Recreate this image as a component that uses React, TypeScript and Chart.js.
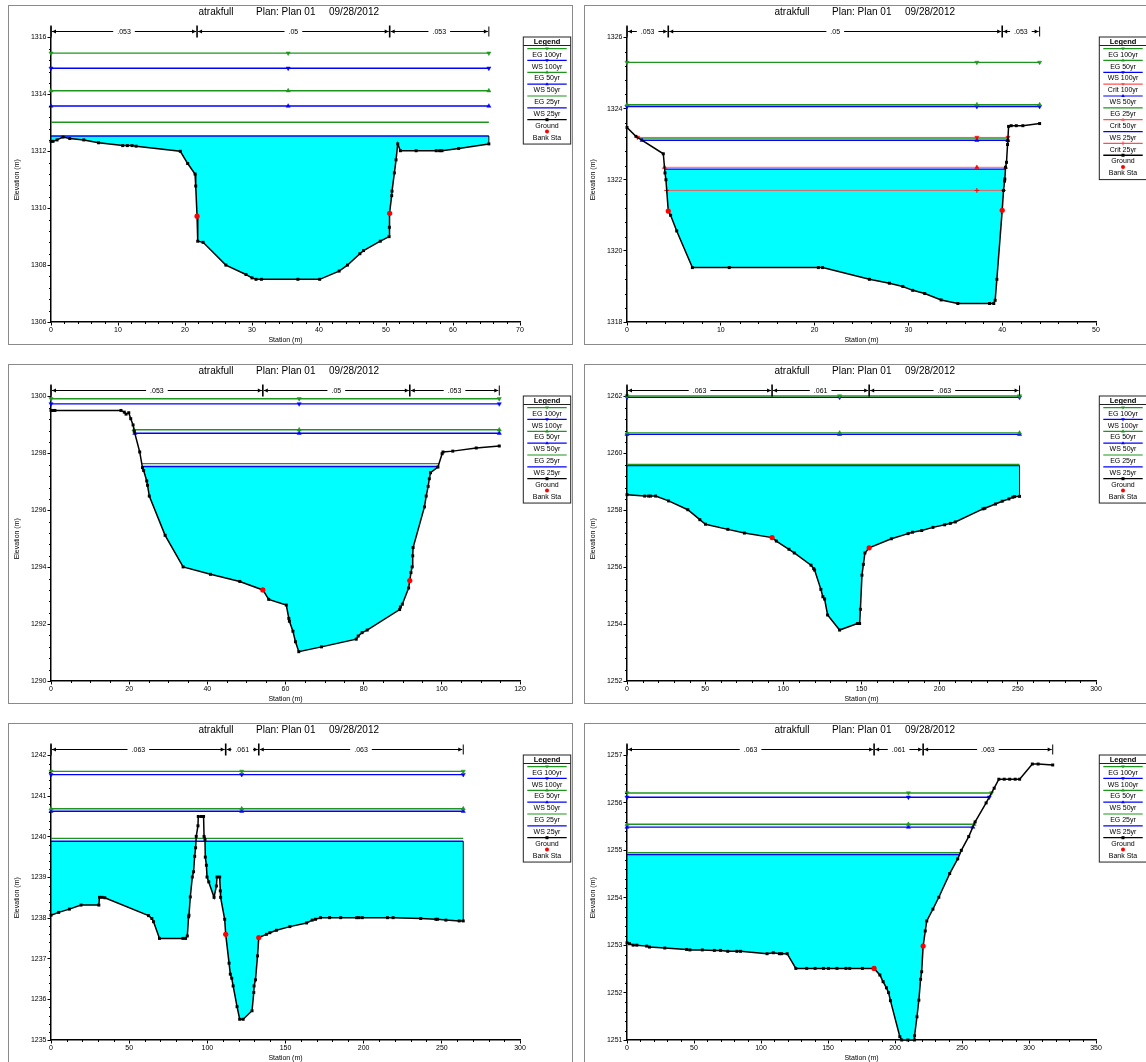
import React, { useEffect, useRef } from 'react';
import { Chart, registerables } from 'chart.js';

Chart.register(...registerables);

const FONT = "'Liberation Sans', Arial, Helvetica, sans-serif";
const TITLE_PARTS = ['atrakfull', 'Plan: Plan 01', '09/28/2012'];
const Y_TITLE = 'Elevation (m)';
const X_TITLE = 'Station (m)';

// ---------------- Panel 1 ----------------
const p1Station = [0, 0.3, 0.9, 1.8, 2.8, 4.9, 7.1, 10.7, 11.4, 12.1, 12.7, 19.3, 20.4, 21.5, 21.6, 21.8, 21.9, 22.7, 26.1, 29.1, 30.0, 30.6, 31.4, 36.85, 40.1, 43.0, 44.25, 46.1, 46.65, 49.15, 50.45, 50.5, 50.55, 50.85, 50.9, 51.25, 51.5, 51.75, 52.15, 54.5, 57.5, 58.0, 58.35, 60.85, 65.35];
const p1Elevation = [1312.35, 1312.35, 1312.4, 1312.5, 1312.45, 1312.4, 1312.3, 1312.2, 1312.2, 1312.2, 1312.18, 1312.0, 1311.57, 1311.2, 1310.78, 1309.72, 1308.84, 1308.8, 1308.0, 1307.67, 1307.55, 1307.5, 1307.5, 1307.5, 1307.5, 1307.79, 1308.0, 1308.4, 1308.51, 1308.84, 1309.0, 1309.33, 1309.82, 1310.44, 1310.6, 1311.24, 1311.7, 1312.26, 1312.02, 1312.02, 1312.02, 1312.02, 1312.02, 1312.1, 1312.26];
const p1BankStations = [21.8, 50.55];
const p1Profiles = ['EG 100yr', 'WS 100yr', 'EG 50yr', 'WS 50yr', 'EG 25yr', 'WS 25yr'];
const p1Levels = [1315.45, 1314.92, 1314.13, 1313.59, 1313.02, 1312.54];
const p1Manning = ['.053', '.05', '.053'];
const p1MarkerStation = 35.4;
const p1XAxis = [0, 70, 10, 2];
const p1YAxis = [1306, 1316, 2, 0.4];

// ---------------- Panel 2 ----------------
const p2Station = [0, 0.95, 3.87, 4.05, 4.15, 4.4, 4.65, 5.3, 6.97, 10.9, 20.4, 20.85, 25.84, 27.97, 29.4, 30.46, 31.74, 33.49, 35.27, 38.65, 39.1, 39.25, 39.43, 40.0, 40.14, 40.25, 40.28, 40.36, 40.46, 40.57, 40.6, 40.68, 40.96, 41.5, 42.2, 43.99];
const p2Elevation = [1323.47, 1323.22, 1322.73, 1322.19, 1322.0, 1321.12, 1321.0, 1320.56, 1319.53, 1319.53, 1319.53, 1319.53, 1319.2, 1319.09, 1319.0, 1318.89, 1318.8, 1318.62, 1318.52, 1318.52, 1318.52, 1318.61, 1319.2, 1321.14, 1321.7, 1321.96, 1322.02, 1322.35, 1322.49, 1322.99, 1323.1, 1323.5, 1323.52, 1323.52, 1323.52, 1323.58];
const p2BankStations = [4.4, 40.0];
const p2Profiles = ['EG 100yr', 'EG 50yr', 'WS 100yr', 'Crit 100yr', 'WS 50yr', 'EG 25yr', 'Crit 50yr', 'WS 25yr', 'Crit 25yr'];
const p2Levels = [1325.3, 1324.11, 1324.06, 1323.19, 1323.11, 1323.17, 1322.35, 1322.3, 1321.7];
const p2Manning = ['.053', '.05', '.053'];
const p2MarkerStation = 37.3;
const p2XAxis = [0, 50, 10, 2];
const p2YAxis = [1318, 1326, 2, 0.4];

// ---------------- Panel 3 ----------------
const p3Station = [0, 0.4, 1.0, 17.9, 18.75, 19.2, 19.9, 20.4, 21.0, 21.3, 22.7, 23.4, 23.7, 24.5, 24.7, 25.15, 29.2, 33.8, 40.8, 48.3, 54.2, 55.7, 60.2, 60.85, 61.0, 61.9, 62.55, 63.4, 69.2, 78.1, 78.6, 79.6, 80.9, 89.2, 89.4, 89.9, 91.5, 91.8, 92.1, 92.4, 92.55, 92.65, 95.55, 96.0, 96.5, 96.8, 97.1, 99.0, 100.07, 100.3, 102.8, 108.8, 114.7];
const p3Elevation = [1299.51, 1299.51, 1299.51, 1299.51, 1299.45, 1299.38, 1299.43, 1299.22, 1299.0, 1298.78, 1298.05, 1297.5, 1297.4, 1297.03, 1296.88, 1296.5, 1295.12, 1294.01, 1293.75, 1293.5, 1293.2, 1292.87, 1292.67, 1292.2, 1292.1, 1291.75, 1291.38, 1291.03, 1291.2, 1291.47, 1291.58, 1291.7, 1291.79, 1292.51, 1292.6, 1292.7, 1293.27, 1293.53, 1293.81, 1294.01, 1294.4, 1294.69, 1296.12, 1296.5, 1296.84, 1297.11, 1297.32, 1297.52, 1297.99, 1298.05, 1298.08, 1298.19, 1298.26];
const p3BankStations = [54.2, 91.8];
const p3Profiles = ['EG 100yr', 'WS 100yr', 'EG 50yr', 'WS 50yr', 'EG 25yr', 'WS 25yr'];
const p3Levels = [1299.92, 1299.74, 1298.83, 1298.71, 1297.64, 1297.54];
const p3Manning = ['.053', '.05', '.053'];
const p3MarkerStation = 63.5;
const p3XAxis = [0, 120, 20, 5];
const p3YAxis = [1290, 1300, 2, 0.4];

// ---------------- Panel 4 ----------------
const p4Station = [0, 11.3, 13.8, 15.1, 18.3, 26.6, 38.9, 46.6, 50.2, 64.5, 75.1, 92.8, 95.5, 103.6, 107.0, 117.7, 119.4, 120.0, 124.0, 125.3, 126.4, 128.3, 136.0, 147.4, 148.8, 149.3, 150.3, 151.2, 152.2, 154.9, 169.1, 179.8, 182.6, 188.5, 195.7, 203.2, 206.8, 210.0, 227.7, 228.9, 235.7, 240.0, 244.3, 246.8, 247.9, 251.1];
const p4Elevation = [1258.55, 1258.5, 1258.5, 1258.5, 1258.5, 1258.33, 1258.02, 1257.67, 1257.51, 1257.33, 1257.2, 1257.04, 1256.92, 1256.63, 1256.5, 1256.07, 1255.95, 1255.9, 1255.22, 1254.96, 1254.88, 1254.32, 1253.79, 1254.02, 1254.02, 1254.52, 1255.72, 1256.1, 1256.5, 1256.68, 1257.0, 1257.18, 1257.23, 1257.29, 1257.4, 1257.49, 1257.54, 1257.59, 1258.05, 1258.07, 1258.22, 1258.32, 1258.4, 1258.46, 1258.48, 1258.49];
const p4BankStations = [92.8, 154.9];
const p4Profiles = ['EG 100yr', 'WS 100yr', 'EG 50yr', 'WS 50yr', 'EG 25yr', 'WS 25yr'];
const p4Levels = [1262.02, 1261.97, 1260.72, 1260.67, 1259.61, 1259.57];
const p4Manning = ['.063', '.061', '.063'];
const p4MarkerStation = 136;
const p4XAxis = [0, 300, 50, 10];
const p4YAxis = [1252, 1262, 2, 0.4];

// ---------------- Panel 5 ----------------
const p5Station = [0, 4.9, 11.75, 19.2, 30.6, 31.0, 32.7, 34.4, 62.4, 64.5, 65.6, 69.4, 84.4, 86.1, 87.2, 88.0, 88.25, 89.1, 90.4, 91.2, 91.9, 92.5, 92.9, 94.0, 94.2, 96.2, 97.6, 97.9, 98.5, 98.7, 99.4, 99.8, 100.9, 104.3, 105.8, 106.2, 107.9, 108.3, 108.5, 111.1, 111.75, 113.9, 114.7, 115.6, 116.5, 119.0, 120.7, 122.9, 128.6, 129.7, 129.9, 130.8, 132.1, 132.9, 137.8, 140.0, 144.2, 152.8, 163.5, 167.1, 169.2, 172.4, 178.2, 185.3, 195.5, 197.0, 199.1, 215.2, 218.8, 236.5, 246.2, 247.2, 252.6, 261.1, 263.7];
const p5Elevation = [1238.07, 1238.14, 1238.22, 1238.32, 1238.32, 1238.51, 1238.51, 1238.5, 1238.06, 1237.99, 1237.91, 1237.5, 1237.5, 1237.5, 1237.56, 1238.03, 1238.07, 1238.52, 1239.01, 1239.14, 1239.52, 1239.73, 1240.01, 1240.27, 1240.5, 1240.5, 1240.5, 1240.01, 1239.93, 1239.5, 1239.3, 1239.01, 1238.89, 1238.51, 1238.79, 1239.01, 1239.01, 1238.67, 1238.51, 1237.97, 1237.6, 1236.89, 1236.62, 1236.52, 1236.33, 1235.82, 1235.51, 1235.51, 1235.72, 1236.17, 1236.33, 1236.48, 1237.07, 1237.52, 1237.6, 1237.64, 1237.7, 1237.79, 1237.88, 1237.95, 1237.97, 1238.01, 1238.01, 1238.01, 1238.01, 1238.01, 1238.01, 1238.01, 1238.01, 1237.99, 1237.97, 1237.97, 1237.95, 1237.93, 1237.93];
const p5BankStations = [111.75, 132.9];
const p5Profiles = ['EG 100yr', 'WS 100yr', 'EG 50yr', 'WS 50yr', 'EG 25yr', 'WS 25yr'];
const p5Levels = [1241.61, 1241.53, 1240.69, 1240.63, 1239.96, 1239.89];
const p5Manning = ['.063', '.061', '.063'];
const p5MarkerStation = 122;
const p5XAxis = [0, 300, 50, 10];
const p5YAxis = [1235, 1242, 1, 0.2];

// ---------------- Panel 6 ----------------
const p6Station = [0, 1.9, 4.6, 7.3, 14.7, 16.8, 28.2, 44.5, 46.9, 56.2, 65.2, 69.8, 75.2, 82.0, 84.7, 104.5, 109.2, 113.8, 115.4, 119.5, 126.0, 134.1, 140.4, 146.6, 150.4, 156.7, 163.4, 166.2, 175.7, 184.4, 188.7, 191.1, 193.6, 195.2, 196.6, 203.6, 205.0, 209.6, 214.5, 214.6, 216.4, 217.8, 219.1, 219.9, 221.0, 222.6, 223.7, 228.3, 232.7, 240.8, 246.8, 249.5, 255.0, 259.8, 268.0, 274.0, 277.5, 281.5, 285.6, 289.7, 293.0, 302.5, 306.8, 317.7];
const p6Elevation = [1253.05, 1253.03, 1253.0, 1253.0, 1252.98, 1252.96, 1252.94, 1252.91, 1252.9, 1252.9, 1252.89, 1252.89, 1252.87, 1252.87, 1252.87, 1252.82, 1252.84, 1252.82, 1252.82, 1252.82, 1252.51, 1252.51, 1252.51, 1252.51, 1252.51, 1252.51, 1252.51, 1252.51, 1252.51, 1252.51, 1252.37, 1252.23, 1252.1, 1252.0, 1251.83, 1251.07, 1251.0, 1251.0, 1251.0, 1251.09, 1251.49, 1251.84, 1252.28, 1252.44, 1252.98, 1253.3, 1253.51, 1253.76, 1254.01, 1254.51, 1254.82, 1255.0, 1255.29, 1255.6, 1256.0, 1256.31, 1256.5, 1256.5, 1256.5, 1256.5, 1256.5, 1256.82, 1256.82, 1256.8];
const p6BankStations = [184.4, 221.0];
const p6Profiles = ['EG 100yr', 'WS 100yr', 'EG 50yr', 'WS 50yr', 'EG 25yr', 'WS 25yr'];
const p6Levels = [1256.21, 1256.12, 1255.55, 1255.49, 1254.95, 1254.91];
const p6Manning = ['.063', '.061', '.063'];
const p6MarkerStation = 210;
const p6XAxis = [0, 350, 50, 10];
const p6YAxis = [1251, 1257, 1, 0.2];

// ---------------- helpers ----------------
type Marker = 'down' | 'up' | 'none' | 'cross' | 'rect' | 'circle';

interface PanelDef {
  id: string;
  sta: number[];
  elev: number[];
  banks: number[];
  profiles: string[];
  levels: number[];
  manning: string[];
  mid: number;
  xAxis: number[];
  yAxis: number[];
  left: number;
  top: number;
}

const W = 565;
const H = 340;

const COLORS: Record<string, string> = {
  EG: 'rgb(30,150,30)',
  WS: 'rgb(0,0,255)',
  Crit: 'rgb(255,80,80)',
};

function markerFor(name: string): Marker {
  if (name === 'Crit 25yr') return 'cross';
  if (name.indexOf('100yr') >= 0) return 'down';
  if (name.indexOf('50yr') >= 0) return 'up';
  return 'none';
}
function kindOf(name: string): string {
  return name.split(' ')[0];
}

function extent(sta: number[], elev: number[], level: number): [number, number] {
  const n = sta.length - 1;
  let s = sta[0];
  if (elev[0] > level) {
    for (let i = 0; i < n; i++) {
      if (elev[i] > level && elev[i + 1] <= level) {
        s = sta[i] + ((sta[i + 1] - sta[i]) * (elev[i] - level)) / (elev[i] - elev[i + 1]);
        break;
      }
    }
  }
  let e = sta[n];
  if (elev[n] > level) {
    for (let i = n; i > 0; i--) {
      if (elev[i] > level && elev[i - 1] <= level) {
        e = sta[i] - ((sta[i] - sta[i - 1]) * (elev[i] - level)) / (elev[i] - elev[i - 1]);
        break;
      }
    }
  }
  return [s, e];
}

// ground clipped at the water level (with crossing points) -> water body outline
function waterOutline(sta: number[], elev: number[], level: number) {
  const pts: { x: number; y: number }[] = [];
  for (let i = 0; i < sta.length; i++) {
    if (i > 0) {
      const a = elev[i - 1] - level;
      const b = elev[i] - level;
      if (a * b < 0) {
        const t = a / (a - b);
        pts.push({ x: sta[i - 1] + t * (sta[i] - sta[i - 1]), y: level });
      }
    }
    pts.push({ x: sta[i], y: Math.min(elev[i], level) });
  }
  return pts;
}

function interp(sta: number[], elev: number[], x: number): number {
  for (let i = 0; i < sta.length; i++) if (sta[i] === x) return elev[i];
  for (let i = 0; i < sta.length - 1; i++) {
    if (x >= sta[i] && x <= sta[i + 1]) {
      const t = (x - sta[i]) / (sta[i + 1] - sta[i] || 1);
      return elev[i] + t * (elev[i + 1] - elev[i]);
    }
  }
  return elev[0];
}

function drawMarker(ctx: CanvasRenderingContext2D, m: Marker, x: number, y: number, color: string, r: number) {
  if (m === 'none') return;
  ctx.save();
  ctx.fillStyle = color;
  ctx.strokeStyle = color;
  ctx.lineWidth = 1;
  ctx.beginPath();
  if (m === 'down' || m === 'up') {
    const s = m === 'down' ? 1 : -1;
    ctx.moveTo(x, y + s * r);
    ctx.lineTo(x - r * 0.9, y - s * r * 0.55);
    ctx.lineTo(x + r * 0.9, y - s * r * 0.55);
    ctx.closePath();
    ctx.fill();
  } else if (m === 'cross') {
    ctx.moveTo(x - r, y);
    ctx.lineTo(x + r, y);
    ctx.moveTo(x, y - r);
    ctx.lineTo(x, y + r);
    ctx.stroke();
  } else if (m === 'rect') {
    ctx.fillRect(x - r, y - r, 2 * r, 2 * r);
  } else if (m === 'circle') {
    ctx.arc(x, y, r, 0, Math.PI * 2);
    ctx.fill();
  }
  ctx.restore();
}

function fillLevelOf(def: PanelDef): number {
  const i = def.profiles.indexOf('WS 25yr');
  return def.levels[i];
}

function makePlugin(def: PanelDef) {
  return {
    id: 'hecras_' + def.id,
    afterDatasetsDraw(chart: any) {
      const ctx: CanvasRenderingContext2D = chart.ctx;
      const xs = chart.scales.x;
      const ys = chart.scales.y;
      const fl = fillLevelOf(def);
      ctx.save();
      ctx.strokeStyle = '#000';
      ctx.lineWidth = 1;
      const ends = [0, def.sta.length - 1];
      ends.forEach((k) => {
        if (def.elev[k] < fl) {
          const px = xs.getPixelForValue(def.sta[k]);
          ctx.beginPath();
          ctx.moveTo(px, ys.getPixelForValue(def.elev[k]));
          ctx.lineTo(px, ys.getPixelForValue(fl));
          ctx.stroke();
        }
      });
      ctx.restore();
    },
    afterDraw(chart: any) {
      const ctx: CanvasRenderingContext2D = chart.ctx;
      const { left, top, bottom } = chart.chartArea;
      const xs = chart.scales.x;
      const ys = chart.scales.y;
      ctx.save();

      // frame
      ctx.strokeStyle = '#8a8a8a';
      ctx.lineWidth = 1;
      ctx.strokeRect(0.5, 0.5, W - 1, H - 1);

      // title
      ctx.fillStyle = '#000';
      ctx.font = `10px ${FONT}`;
      ctx.textBaseline = 'middle';
      ctx.textAlign = 'left';
      const cx = W / 2;
      const offs = [-92, -34.5, 38.5];
      TITLE_PARTS.forEach((t, i) => {
        ctx.fillText(t, cx + offs[i], 7.5);
      });

      // y axis extension up to the Manning bar
      ctx.strokeStyle = '#000';
      ctx.lineWidth = 1.5;
      ctx.beginPath();
      ctx.moveTo(left, top);
      ctx.lineTo(left, top - 12);
      ctx.stroke();

      // minor ticks
      ctx.lineWidth = 1;
      const [xmin, xmax, xmaj, xmin2] = def.xAxis;
      const nx = Math.round((xmax - xmin) / xmin2);
      for (let k = 0; k <= nx; k++) {
        const v = xmin + k * xmin2;
        const r = v / xmaj;
        if (Math.abs(r - Math.round(r)) < 1e-6) continue;
        const p = Math.round(xs.getPixelForValue(v)) + 0.5;
        ctx.beginPath();
        ctx.moveTo(p, bottom);
        ctx.lineTo(p, bottom + 2);
        ctx.stroke();
      }
      const [ymin, ymax, ymaj, ymin2] = def.yAxis;
      const ny = Math.round((ymax - ymin) / ymin2);
      for (let k = 0; k <= ny; k++) {
        const v = ymin + k * ymin2;
        const r = v / ymaj;
        if (Math.abs(r - Math.round(r)) < 1e-6) continue;
        const p = Math.round(ys.getPixelForValue(v)) + 0.5;
        ctx.beginPath();
        ctx.moveTo(left - 2, p);
        ctx.lineTo(left, p);
        ctx.stroke();
      }

      // Manning's n bar
      const by = Math.round(top - 7) + 0.5;
      const breaks = [def.sta[0], def.banks[0], def.banks[1], def.sta[def.sta.length - 1]];
      const px = breaks.map((b) => xs.getPixelForValue(b));
      ctx.font = `7px ${FONT}`;
      ctx.textAlign = 'center';
      ctx.textBaseline = 'middle';
      ctx.fillStyle = '#000';
      ctx.strokeStyle = '#000';
      for (let k = 0; k < 3; k++) {
        const x0 = px[k];
        const x1 = px[k + 1];
        const mid = (x0 + x1) / 2;
        const tw = ctx.measureText(def.manning[k]).width;
        ctx.lineWidth = 1;
        ctx.beginPath();
        ctx.moveTo(x0 + 1, by);
        ctx.lineTo(mid - tw / 2 - 4, by);
        ctx.moveTo(mid + tw / 2 + 4, by);
        ctx.lineTo(x1 - 1, by);
        ctx.stroke();
        ctx.fillText(def.manning[k], mid, by + 0.5);
        ctx.beginPath();
        ctx.moveTo(x0 + 1, by);
        ctx.lineTo(x0 + 5, by - 2);
        ctx.lineTo(x0 + 5, by + 2);
        ctx.closePath();
        ctx.fill();
        ctx.beginPath();
        ctx.moveTo(x1 - 1, by);
        ctx.lineTo(x1 - 5, by - 2);
        ctx.lineTo(x1 - 5, by + 2);
        ctx.closePath();
        ctx.fill();
      }
      px.forEach((p, j) => {
        const isEnd = j === 0 || j === px.length - 1;
        const h = isEnd ? 5 : 6;
        ctx.lineWidth = isEnd ? 1 : 1.6;
        ctx.beginPath();
        ctx.moveTo(p, by - h);
        ctx.lineTo(p, by + h);
        ctx.stroke();
      });

      // legend box
      const entries: { name: string; color: string; marker: Marker; line: boolean }[] = def.profiles.map((nm) => ({
        name: nm,
        color: COLORS[kindOf(nm)],
        marker: markerFor(nm),
        line: true,
      }));
      entries.push({ name: 'Ground', color: '#000', marker: 'rect', line: true });
      entries.push({ name: 'Bank Sta', color: 'rgb(255,0,0)', marker: 'circle', line: false });
      const lx = 515.3;
      const lw = 47.4;
      const ly = 32;
      const step = 11.85;
      const lastText = 49.8 + step * (entries.length - 1);
      const lh = lastText + 6.3 - ly;
      ctx.fillStyle = '#fff';
      ctx.fillRect(lx, ly, lw, lh);
      ctx.strokeStyle = '#222';
      ctx.lineWidth = 1;
      ctx.strokeRect(lx, ly, lw, lh);
      ctx.fillStyle = '#000';
      ctx.font = `bold 7.5px ${FONT}`;
      ctx.textAlign = 'center';
      ctx.fillText('Legend', lx + lw / 2, ly + 4.6);
      ctx.beginPath();
      ctx.moveTo(lx, ly + 8.5);
      ctx.lineTo(lx + lw, ly + 8.5);
      ctx.stroke();
      ctx.font = `7px ${FONT}`;
      const lcx = lx + lw / 2;
      entries.forEach((en, i) => {
        const lineY = 43.6 + step * i;
        const textY = 49.8 + step * i;
        if (en.line) {
          ctx.strokeStyle = en.color;
          ctx.lineWidth = en.name === 'Ground' ? 1.3 : 1.2;
          ctx.beginPath();
          ctx.moveTo(lx + 4, lineY);
          ctx.lineTo(lx + lw - 4, lineY);
          ctx.stroke();
        }
        drawMarker(ctx, en.marker, lcx, lineY, en.marker === 'circle' ? 'rgb(255,0,0)' : en.color, en.marker === 'rect' ? 1.5 : 2);
        ctx.fillStyle = '#000';
        ctx.fillText(en.name, lcx, textY);
      });

      ctx.restore();
    },
  };
}

function buildConfig(def: PanelDef): any {
  const fl = fillLevelOf(def);
  const profileSets = def.profiles.map((nm, i) => {
    const lv = def.levels[i];
    const [s, e] = extent(def.sta, def.elev, lv);
    const pts: { x: number; y: number }[] = [{ x: s, y: lv }];
    if (def.mid > s && def.mid < e) pts.push({ x: def.mid, y: lv });
    pts.push({ x: e, y: lv });
    const mk = markerFor(nm);
    const color = COLORS[kindOf(nm)];
    const isCrit = kindOf(nm) === 'Crit';
    return {
      label: nm,
      data: pts,
      borderColor: color,
      backgroundColor: color,
      borderWidth: isCrit ? 0.9 : 1.4,
      pointRadius: mk === 'none' ? 0 : 2.4,
      pointStyle: mk === 'cross' ? 'cross' : 'triangle',
      pointRotation: mk === 'down' ? 180 : 0,
      pointBackgroundColor: isCrit ? 'rgb(255,0,0)' : color,
      pointBorderColor: isCrit ? 'rgb(255,0,0)' : color,
      pointBorderWidth: mk === 'cross' ? 1 : 0.5,
      fill: false,
      clip: false,
      order: 2 + i,
    };
  });
  const water = {
    label: 'water',
    data: waterOutline(def.sta, def.elev, fl),
    borderColor: 'rgba(0,0,0,0)',
    backgroundColor: '#00ffff',
    borderWidth: 0,
    pointRadius: 0,
    fill: { value: fl },
    order: 50,
  };
  const ground = {
    label: 'Ground',
    data: def.sta.map((x, i) => ({ x, y: def.elev[i] })),
    borderColor: '#000',
    backgroundColor: '#000',
    borderWidth: 1.5,
    pointRadius: 2.1,
    pointStyle: 'rect',
    pointBackgroundColor: '#000',
    pointBorderColor: '#000',
    pointBorderWidth: 0,
    fill: false,
    clip: false,
    order: 1,
  };
  const bank = {
    label: 'Bank Sta',
    data: def.banks.map((b) => ({ x: b, y: interp(def.sta, def.elev, b) })),
    showLine: false,
    borderColor: 'rgb(255,0,0)',
    backgroundColor: 'rgb(255,0,0)',
    pointRadius: 2.6,
    pointStyle: 'circle',
    pointBackgroundColor: 'rgb(255,0,0)',
    pointBorderColor: 'rgb(255,0,0)',
    pointBorderWidth: 0,
    fill: false,
    clip: false,
    order: 0,
  };
  const [xmin, xmax, xstep] = def.xAxis;
  const [ymin, ymax, ystep] = def.yAxis;
  const tickFont = { family: FONT, size: 7 };
  return {
    type: 'line',
    data: { datasets: [...profileSets, water, ground, bank] },
    options: {
      responsive: false,
      devicePixelRatio: 1,
      animation: false,
      events: [],
      layout: { padding: { left: 0, top: 32.5, right: 53, bottom: 0 } },
      plugins: {
        legend: { display: false },
        tooltip: { enabled: false },
        title: { display: false },
        filler: { drawTime: 'beforeDatasetsDraw', propagate: false },
      },
      scales: {
        x: {
          type: 'linear',
          min: xmin,
          max: xmax,
          afterFit: (scale: any) => {
            scale.height = 23;
          },
          ticks: {
            stepSize: xstep,
            autoSkip: false,
            maxRotation: 0,
            padding: 0,
            color: '#000',
            font: tickFont,
            callback: (v: any) => String(v),
          },
          grid: { display: true, drawOnChartArea: false, drawTicks: true, tickLength: 3.5, tickColor: '#000', tickWidth: 1 },
          border: { display: true, color: '#000', width: 1.5 },
          title: { display: true, text: X_TITLE, color: '#000', font: { family: FONT, size: 7 }, padding: { top: 0, bottom: 0.8 } },
        },
        y: {
          type: 'linear',
          min: ymin,
          max: ymax,
          afterFit: (scale: any) => {
            scale.width = 43;
          },
          ticks: {
            stepSize: ystep,
            autoSkip: false,
            padding: 1,
            color: '#000',
            font: tickFont,
            callback: (v: any) => String(v),
          },
          grid: { display: true, drawOnChartArea: false, drawTicks: true, tickLength: 3.5, tickColor: '#000', tickWidth: 1 },
          border: { display: true, color: '#000', width: 1.5 },
          title: { display: true, text: Y_TITLE, color: '#000', font: { family: FONT, size: 7 }, padding: { top: 4.5, bottom: 0 } },
        },
      },
    },
    plugins: [makePlugin(def)],
  };
}

const PANELS: PanelDef[] = [
  { id: 'p1', sta: p1Station, elev: p1Elevation, banks: p1BankStations, profiles: p1Profiles, levels: p1Levels, manning: p1Manning, mid: p1MarkerStation, xAxis: p1XAxis, yAxis: p1YAxis, left: 8, top: 5 },
  { id: 'p2', sta: p2Station, elev: p2Elevation, banks: p2BankStations, profiles: p2Profiles, levels: p2Levels, manning: p2Manning, mid: p2MarkerStation, xAxis: p2XAxis, yAxis: p2YAxis, left: 584, top: 5 },
  { id: 'p3', sta: p3Station, elev: p3Elevation, banks: p3BankStations, profiles: p3Profiles, levels: p3Levels, manning: p3Manning, mid: p3MarkerStation, xAxis: p3XAxis, yAxis: p3YAxis, left: 8, top: 364 },
  { id: 'p4', sta: p4Station, elev: p4Elevation, banks: p4BankStations, profiles: p4Profiles, levels: p4Levels, manning: p4Manning, mid: p4MarkerStation, xAxis: p4XAxis, yAxis: p4YAxis, left: 584, top: 364 },
  { id: 'p5', sta: p5Station, elev: p5Elevation, banks: p5BankStations, profiles: p5Profiles, levels: p5Levels, manning: p5Manning, mid: p5MarkerStation, xAxis: p5XAxis, yAxis: p5YAxis, left: 8, top: 723 },
  { id: 'p6', sta: p6Station, elev: p6Elevation, banks: p6BankStations, profiles: p6Profiles, levels: p6Levels, manning: p6Manning, mid: p6MarkerStation, xAxis: p6XAxis, yAxis: p6YAxis, left: 584, top: 723 },
];

function Panel({ def }: { def: PanelDef }) {
  const ref = useRef<HTMLCanvasElement>(null);
  useEffect(() => {
    if (!ref.current) return;
    const chart = new Chart(ref.current, buildConfig(def));
    return () => chart.destroy();
  }, [def]);
  return (
    <canvas
      ref={ref}
      width={W}
      height={H}
      style={{ position: 'absolute', left: def.left, top: def.top, width: W, height: H, display: 'block' }}
    />
  );
}

export default function App() {
  return (
    <div
      style={{
        position: 'absolute',
        left: 0,
        top: 0,
        width: 1146,
        height: 1062,
        overflow: 'hidden',
        background: '#fff',
      }}
    >
      {PANELS.map((d) => (
        <Panel key={d.id} def={d} />
      ))}
    </div>
  );
}
